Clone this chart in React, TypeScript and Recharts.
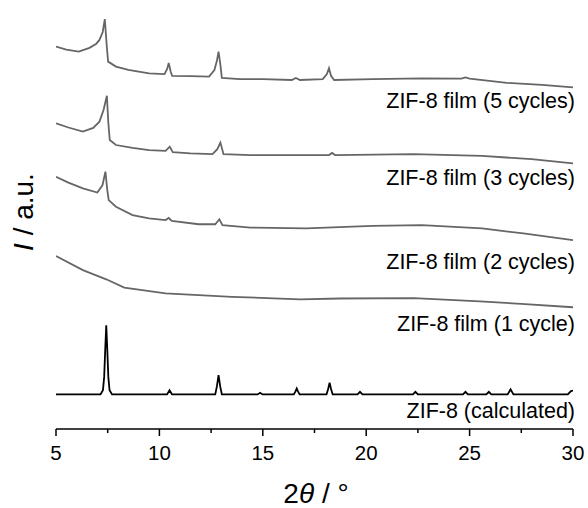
import { LineChart, Line, XAxis, YAxis } from "recharts";

// 2θ (deg) / intensity (a.u., stacked with offsets) pairs
const film5: [number, number][] = [
  [5, 91.7], [5.5, 91.0], [6.1, 90.5], [6.62, 91.4], [6.95, 92.4], [7.1, 93.3],
  [7.26, 95.2], [7.36, 98.3], [7.46, 91.5], [7.52, 88.1], [7.9, 86.9], [8.5, 86.1],
  [9.5, 85.3], [10.25, 85.1], [10.38, 86.4], [10.45, 87.8], [10.55, 85.6], [10.62, 84.7],
  [11.5, 84.6], [12.4, 84.5], [12.66, 86.1], [12.78, 88.3], [12.86, 90.5], [12.95, 87.3],
  [13.02, 84.2], [13.9, 83.9], [15.0, 83.9], [16.4, 83.7], [16.6, 84.2], [16.8, 83.7],
  [17.9, 83.9], [18.1, 85.1], [18.2, 86.5], [18.3, 84.7], [18.45, 83.7], [20.3, 83.9],
  [22.7, 84.1], [24.6, 84.0], [24.8, 84.3], [25.0, 84.0], [26.8, 83.0], [28.5, 82.5],
  [30, 81.9],
];

const film3: [number, number][] = [
  [5, 73.3], [5.6, 72.3], [6.3, 71.3], [6.8, 72.2], [7.1, 73.7], [7.3, 76.5],
  [7.46, 79.9], [7.53, 73.5], [7.6, 69.3], [7.9, 68.1], [8.7, 67.4], [9.5, 66.9],
  [10.3, 66.7], [10.5, 67.7], [10.65, 66.4], [11.5, 66.1], [12.57, 65.9], [12.8, 67.1],
  [12.95, 68.7], [13.1, 65.9], [14.4, 65.7], [18.2, 65.7], [18.35, 66.2], [18.5, 65.7],
  [22.3, 65.9], [25.6, 65.5], [28, 64.7], [30, 63.7],
];

const film2: [number, number][] = [
  [5, 60.5], [5.6, 59.1], [6.3, 57.7], [7.0, 56.7], [7.25, 58.5], [7.39, 61.7],
  [7.48, 57.3], [7.55, 54.9], [7.9, 53.3], [8.7, 51.3], [9.5, 50.5], [10.3, 50.1],
  [10.45, 50.6], [10.6, 49.9], [11.9, 49.1], [12.7, 49.1], [12.9, 50.3], [13.05, 48.9],
  [14.4, 48.3], [17.1, 48.1], [20.3, 48.7], [22.7, 48.9], [25.6, 48.1], [27.6, 46.9],
  [30, 45.3],
];

const film1: [number, number][] = [
  [5, 41.5], [6.3, 38.1], [7.43, 35.9], [8.3, 33.9], [10.3, 32.5], [13.5, 31.7],
  [16.8, 31.1], [18.7, 31.3], [22.3, 31.4], [25.5, 30.6], [27.5, 30.0], [30, 29.2],
];

const calculated: [number, number][] = [
  [5, 8.3], [7.15, 8.3], [7.27, 9.3], [7.33, 12.5], [7.38, 19], [7.43, 24.9],
  [7.48, 19], [7.53, 12.5], [7.59, 9.3], [7.71, 8.3],
  [10.37, 8.3], [10.49, 9.3], [10.61, 8.3],
  [12.7, 8.3], [12.78, 10.2], [12.86, 12.9], [12.94, 10.2], [13.02, 8.3],
  [14.75, 8.3], [14.87, 8.7], [14.99, 8.3],
  [16.5, 8.3], [16.58, 9.0], [16.64, 9.7], [16.7, 9.0], [16.78, 8.3],
  [18.08, 8.3], [18.16, 9.6], [18.23, 11.1], [18.3, 9.6], [18.38, 8.3],
  [19.58, 8.3], [19.7, 8.9], [19.82, 8.3],
  [22.26, 8.3], [22.38, 8.9], [22.5, 8.3],
  [24.68, 8.3], [24.8, 8.9], [24.92, 8.3],
  [25.81, 8.3], [25.93, 8.9], [26.05, 8.3],
  [26.84, 8.3], [26.98, 9.5], [27.12, 8.3],
  [29.75, 8.3], [29.9, 9.1], [30, 9.2],
];

const xTicks = [5, 7.5, 10, 12.5, 15, 17.5, 20, 22.5, 25, 27.5, 30];

const seriesLabels = [
  "ZIF-8 film (5 cycles)",
  "ZIF-8 film (3 cycles)",
  "ZIF-8 film (2 cycles)",
  "ZIF-8 film (1 cycle)",
  "ZIF-8 (calculated)",
];
const labelBaselines = [107.5, 184.5, 269, 331, 417.5];

const FONT = "'Liberation Sans', Arial, sans-serif";
const GRAY = "#666666";

const toPoints = (arr: [number, number][]) => arr.map(([x, y]) => ({ x, y }));

function AxisTick({ x, y, payload }: { x?: number; y?: number; payload?: { value: number } }) {
  if (x == null || y == null || !payload) return null;
  const major = payload.value % 5 === 0;
  return (
    <g>
      <line x1={x} x2={x} y1={y} y2={y + (major ? 7 : 4)} stroke="#000" strokeWidth={1.5} />
      {major && (
        <text x={x} y={y + 31} textAnchor="middle" fontSize={20.5} fill="#000" fontFamily={FONT}>
          {payload.value}
        </text>
      )}
    </g>
  );
}

export default function App() {
  const traces = [
    { key: "f5", data: toPoints(film5), color: GRAY },
    { key: "f3", data: toPoints(film3), color: GRAY },
    { key: "f2", data: toPoints(film2), color: GRAY },
    { key: "f1", data: toPoints(film1), color: GRAY },
    { key: "calc", data: toPoints(calculated), color: "#000" },
  ];

  return (
    <div style={{ position: "absolute", left: 0, top: 0, width: 588, height: 508, background: "#fff" }}>
      <LineChart width={588} height={508} margin={{ top: 12, right: 15, bottom: 0, left: 56 }}>
        <XAxis
          type="number"
          dataKey="x"
          domain={[5, 30]}
          ticks={xTicks}
          tick={<AxisTick />}
          tickLine={false}
          tickSize={0}
          tickMargin={0}
          height={79}
          allowDataOverflow
          axisLine={{ stroke: "#000", strokeWidth: 1.5 }}
        />
        <YAxis
          type="number"
          dataKey="y"
          domain={[0, 100]}
          width={0}
          tick={false}
          tickLine={false}
          allowDataOverflow
          axisLine={{ stroke: "#000", strokeWidth: 1.5 }}
        />
        {traces.map((t) => (
          <Line
            key={t.key}
            data={t.data}
            dataKey="y"
            type="linear"
            stroke={t.color}
            strokeWidth={1.8}
            dot={false}
            isAnimationActive={false}
          />
        ))}
      </LineChart>
      <svg
        width={588}
        height={508}
        style={{ position: "absolute", left: 0, top: 0, pointerEvents: "none" }}
      >
        {seriesLabels.map((label, i) => (
          <text
            key={label}
            x={575}
            y={labelBaselines[i]}
            textAnchor="end"
            fontSize={21.5}
            fill="#000"
            fontFamily={FONT}
          >
            {label}
          </text>
        ))}
        <text x={316} y={503} textAnchor="middle" fontSize={28} fill="#000" fontFamily={FONT}>
          2<tspan fontStyle="italic">θ</tspan> / °
        </text>
        <text
          x={33}
          y={212}
          transform="rotate(-90 33 212)"
          textAnchor="middle"
          fontSize={28}
          fill="#000"
          fontFamily={FONT}
        >
          <tspan fontStyle="italic">I</tspan> / a.u.
        </text>
      </svg>
    </div>
  );
}
